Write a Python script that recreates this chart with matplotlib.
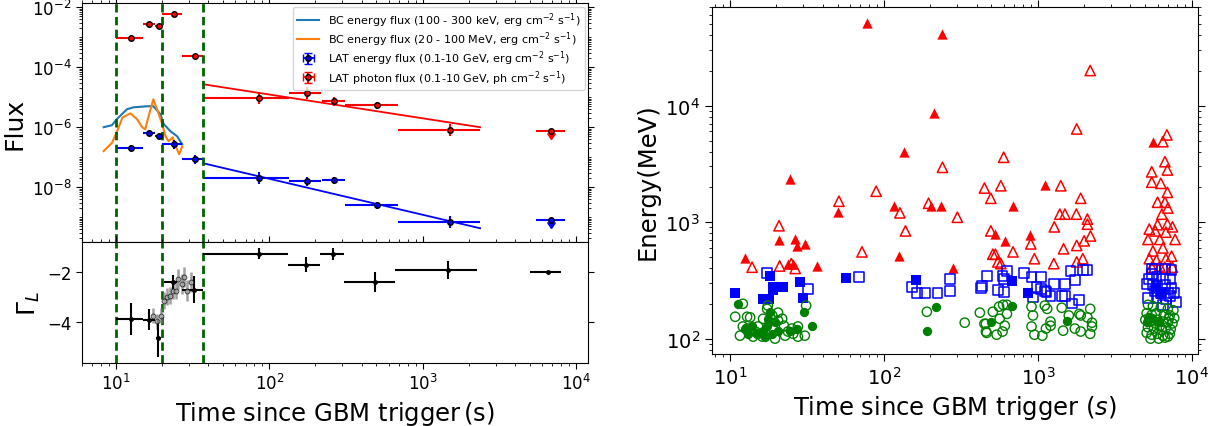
import numpy as np
import matplotlib
matplotlib.use("Agg")
import matplotlib.pyplot as plt
from matplotlib.ticker import LogLocator, NullFormatter

# ---------------- data: left panel ----------------
bc_low_t = [8.3, 9.4, 10.1, 11.8, 13.0, 16.0, 17.5, 19.5, 20.4, 22.6, 25.0, 27.0]
bc_low_f = [1.0e-6, 1.17e-6, 1.85e-6, 4.0e-6, 4.6e-6, 5.0e-6, 5.0e-6, 2.7e-6, 1.3e-6, 7.4e-7, 5.0e-7, 2.7e-7]
bc_high_t = [8.3, 9.4, 10.1, 11.0, 12.4, 13.7, 14.8, 15.5, 16.3, 17.5, 18.5, 20.0, 21.0, 22.0, 23.4, 24.5, 25.8, 27.0]
bc_high_f = [1.6e-7, 3.0e-7, 6.8e-7, 2.1e-6, 2.9e-6, 1.85e-6, 1.0e-6, 8.5e-7, 2.3e-6, 8.5e-6, 4.0e-6,
             1.26e-6, 5.0e-7, 3.4e-7, 4.6e-7, 2.3e-7, 1.26e-7, 2.3e-7]

lat_t = [12.6, 16.5, 19.0, 23.7, 32.5, 86, 175, 264, 505, 1520, 6900]
lat_tlo = [10, 15, 18, 20, 27, 37, 135, 220, 310, 690, 5500]
lat_thi = [15, 18, 20, 27, 37, 135, 217, 310, 690, 2370, 8500]
ph_flux = [9.3e-4, 2.7e-3, 2.3e-3, 5.8e-3, 2.3e-4, 9.3e-6, 1.35e-5, 7.4e-6, 5.4e-6, 8.0e-7, 7.4e-7]
ph_dex = [0.08, 0.05, 0.05, 0.05, 0.08, 0.2, 0.2, 0.15, 0.12, 0.2, 0.05]
en_flux = [2.1e-7, 6.3e-7, 5.0e-7, 2.7e-7, 8.5e-8, 2.1e-8, 1.6e-8, 1.7e-8, 2.5e-9, 6.8e-10, 8.0e-10]
en_dex = [0.08, 0.05, 0.07, 0.15, 0.15, 0.2, 0.15, 0.12, 0.12, 0.2, 0.05]
uplim = [False] * 10 + [True]

fit_t = [37, 2370]
fit_ph = [2.7e-5, 1.0e-6]
fit_en = [6.3e-8, 4.3e-10]

vlines_t = [10, 20, 37]

gam_t = [12.6, 16.3, 18.8, 23.6, 32.3, 86, 174, 262, 490, 1460, 6550]
gam_tlo = [10, 15, 18.3, 20.4, 27, 37, 133, 214, 305, 660, 5000]
gam_thi = [15, 18, 19.5, 25, 37, 133, 214, 305, 660, 2250, 8000]
gam_v = [-3.88, -3.9, -4.65, -2.41, -2.71, -1.29, -1.73, -1.29, -2.4, -1.93, -2.02]
gam_e = [0.63, 0.43, 0.73, 0.27, 0.53, 0.22, 0.3, 0.23, 0.4, 0.37, 0.05]

gg_t = [17.3, 18.5, 19.5, 20.5, 21.5, 22.6, 23.6, 24.7, 25.4, 26.8, 27.7, 29.2, 30.7]
gg_v = [-3.75, -3.97, -3.75, -3.15, -2.99, -2.95, -2.75, -2.75, -2.28, -2.48, -2.21, -2.75, -2.41]
gg_e = [0.3, 0.3, 0.3, 0.35, 0.35, 0.35, 0.35, 0.35, 0.4, 0.4, 0.4, 0.4, 0.4]

# ---------------- data: right panel ----------------
red_fill_t = [12.5, 20.8, 23.8, 25.5, 26.3, 27.2, 30.7, 37, 24.5, 50, 78, 116, 125, 135, 202, 211, 234, 240,
              280, 525, 610, 690, 890, 1110, 5600]
red_fill_E = [490, 700, 440, 440, 710, 620, 650, 420, 2350, 1230, 51000, 1370, 510, 4000, 1370, 8700, 1370, 41000,
              400, 790, 690, 1370, 780, 2100, 4900]

red_open_t = [51, 89, 127, 195, 2190, 1790, 240, 600, 450, 575, 495, 300, 1410, 1900, 1390, 1500, 1780, 2100,
              20.8, 13.9, 21, 25, 26.5, 72, 138, 495, 510, 530, 575, 690, 900, 950, 1270, 1280, 1470, 1790, 1790,
              1960, 2000, 2100, 2200, 550,
              6900, 6500, 6700, 6950, 5500, 5500, 6300, 6950, 6000, 6700, 7000, 6400, 6950, 6000, 5300, 7500,
              5800, 6800, 5200, 6200, 7800, 5600, 6500, 7400, 5300, 5900, 6800, 5500, 6200, 7500, 6700]
red_open_E = [1510, 1840, 1200, 1450, 20000, 6300, 2950, 3600, 1960, 2050, 1600, 1100, 2050, 1600, 1170, 1170, 1170, 1060,
              930, 410, 420, 440, 400, 555, 840, 840, 530, 530, 440, 555, 650, 485, 440, 910, 590, 630, 455,
              485, 690, 960, 760, 455,
              5600, 4900, 3300, 2800, 2700, 2200, 2150, 1800, 1480, 1480, 1320, 1170, 960, 950, 870, 910,
              840, 820, 710, 710, 710, 565, 600, 510, 485, 470, 485, 410, 420, 410, 410]

blue_fill_t = [10.8, 18.2, 19, 19, 22, 16.4, 17.9, 28.5, 29.8, 57, 162, 680, 860, 5900, 6300]
blue_fill_E = [247, 345, 278, 260, 275, 220, 220, 308, 224, 333, 318, 310, 247, 270, 240]

blue_open_t = [17.4, 32, 69, 152, 165, 186, 223, 268, 268, 435, 465, 430, 550, 590, 600, 605, 630, 810, 910, 1050,
               930, 980, 1050, 1140, 1270, 1110, 1210, 1430, 1510, 1510, 1630, 1740, 1660, 1850, 1960, 2100,
               5500, 5800, 6700, 7400, 5300, 5900, 6500, 7200, 5100, 5600, 6000, 6700, 7400, 5800, 6300, 7000,
               7700, 5200, 5900, 6800, 7900, 7200, 6500, 5500]
blue_open_E = [365, 268, 340, 278, 247, 247, 247, 325, 257, 283, 345, 270, 263, 345, 325, 252, 380, 365, 340, 340,
               225, 278, 268, 252, 295, 257, 233, 233, 233, 295, 380, 318, 200, 215, 390, 390,
               395, 395, 395, 390, 325, 340, 325, 325, 295, 290, 283, 290, 273, 258, 247, 247,
               247, 224, 224, 220, 207, 233, 195, 360]

green_fill_t = [11.2, 30.2, 34, 18.2, 17.6, 17.4, 13.9, 14.9, 18.8, 16.4, 20.5, 24.5, 27.2, 16.8, 13, 12.5, 19.6,
                218, 190, 500, 680, 1550, 5500, 6000, 5100, 5300]
green_fill_E = [199, 170, 129, 170, 148, 129, 129, 110, 110, 117, 117, 117, 122, 104, 110, 122, 140,
                188, 117, 139, 192, 143, 150, 140, 140, 150]

green_open_t = [12.1, 10.8, 12.9, 13.5, 12.1, 12.9, 11.6, 14.1, 15.2, 18.8, 20.5, 20.5, 22.4, 22.8, 25.2, 27.6,
                30.6, 27.6, 31.2, 19.6, 16.2, 17.4, 17.6, 21.8, 23.8, 25.7, 15.2, 19, 16.4, 14.6,
                190, 335, 420, 460, 460, 510, 540, 565, 560, 590, 610, 630, 595, 630, 450, 465,
                910, 930, 910, 950, 1070, 1110, 1150, 1210, 1130, 1210, 1430, 1460, 1590, 1740, 1860, 1900, 1900,
                2190, 2250, 2250, 2190, 2100,
                5200, 5600, 6300, 7000, 7600, 5100, 5500, 5900, 6600, 7200, 7700, 5000, 5400, 6000, 6500, 7000,
                7500, 5200, 5700, 6200, 6800, 7300, 5100, 5500, 6000, 6500, 7000, 5400, 6100, 6700, 7200, 5800,
                6400, 5300, 7100]
green_open_E = [199, 154, 154, 152, 127, 122, 106, 104, 127, 158, 167, 143, 129, 106, 122, 127,
                106, 104, 192, 100, 104, 180, 192, 148, 115, 110, 110, 122, 148, 115,
                170, 137, 167, 134, 115, 170, 108, 148, 188, 115, 129, 163, 195, 195, 134, 112,
                188, 158, 127, 108, 106, 192, 180, 140, 122, 129, 184, 117, 158, 122, 163, 158, 115,
                180, 137, 127, 110, 152,
                195, 190, 185, 180, 175, 165, 160, 165, 160, 158, 150, 145, 140, 145, 140, 138,
                135, 125, 122, 128, 124, 120, 112, 108, 110, 106, 104, 100, 100, 102, 110, 135,
                118, 150, 148]

# ---------------- figure ----------------
plt.rcParams['font.family'] = ['DejaVu Sans']
plt.rcParams['mathtext.fontset'] = 'dejavusans'
fig = plt.figure(figsize=(12.25, 4.27), dpi=100)

ax1 = fig.add_axes([0.067, 0.431, 0.413, 0.559])
ax2 = fig.add_axes([0.067, 0.148, 0.413, 0.283], sharex=ax1)
ax3 = fig.add_axes([0.581, 0.169, 0.397, 0.812])

# BC curves
ax1.plot(bc_low_t, bc_low_f, color='#1f77b4', lw=1.5,
         label=r'BC energy flux (100 - 300 keV, erg cm$^{-2}$ s$^{-1}$)')
ax1.plot(bc_high_t, bc_high_f, color='#ff7f0e', lw=1.5,
         label=r'BC energy flux (20 - 100 MeV, erg cm$^{-2}$ s$^{-1}$)')

def asym(vals, dex):
    v = np.array(vals)
    d = np.array(dex)
    return [v - v * 10 ** (-d), v * 10 ** d - v]

lt = np.array(lat_t)
xe = [lt - np.array(lat_tlo), np.array(lat_thi) - lt]
ax1.errorbar(lat_t, en_flux, xerr=xe, yerr=asym(en_flux, en_dex), uplims=uplim, fmt='o', color='blue',
             mfc='blue', mec='black', ms=4, elinewidth=1.5, capsize=0,
             label=r'LAT energy flux (0.1-10 GeV, erg cm$^{-2}$ s$^{-1}$)')
ax1.errorbar(lat_t, ph_flux, xerr=xe, yerr=asym(ph_flux, ph_dex), uplims=uplim, fmt='o', color='red',
             mfc='red', mec='black', ms=4, elinewidth=1.5, capsize=0,
             label=r'LAT photon flux (0.1-10 GeV, ph cm$^{-2}$ s$^{-1}$)')
ax1.plot(fit_t, fit_ph, color='red', lw=1.3)
ax1.plot(fit_t, fit_en, color='blue', lw=1.3)

for v in vlines_t:
    ax1.axvline(v, color='darkgreen', ls='--', lw=2, dashes=(3, 1.6))
    ax2.axvline(v, color='darkgreen', ls='--', lw=2, dashes=(3, 1.6))

ax1.set_xscale('log')
ax1.set_yscale('log')
ax1.set_xlim(6.0, 1.2e4)
ax1.set_ylim(1.5e-10, 1.35e-2)
ax1.set_yticks([1e-8, 1e-6, 1e-4, 1e-2])
ax1.yaxis.set_minor_locator(LogLocator(base=10, subs=np.arange(1, 10), numticks=30))
ax1.yaxis.set_minor_formatter(NullFormatter())
ax1.set_ylabel('Flux', fontsize=18)
ax1.tick_params(axis='both', which='both', direction='out', top=True, right=True, bottom=False,
                labelbottom=False, labelsize=12)
ax1.tick_params(which='major', length=4)
ax1.tick_params(which='minor', length=2)
leg = ax1.legend(loc='upper right', fontsize=8, framealpha=0.8, borderpad=0.35,
                 labelspacing=0.05, handlelength=2, handleheight=0.6, borderaxespad=0.3)

# Gamma panel
gt = np.array(gam_t)
ax2.errorbar(gg_t, gg_v, yerr=gg_e, fmt='o', color='grey', mfc='darkgrey', mec='black', mew=0.6,
             ms=3.5, elinewidth=1.8, alpha=0.75, capsize=0)
ax2.errorbar(gam_t, gam_v, xerr=[gt - np.array(gam_tlo), np.array(gam_thi) - gt], yerr=gam_e,
             fmt='.', color='black', ms=5, elinewidth=1.5, capsize=0)
ax2.set_ylim(-5.62, -0.82)
ax2.set_yticks([-4, -2])
ax2.set_ylabel(r'$\Gamma_L$', fontsize=18)
ax2.set_xlabel(r'Time since GBM trigger$\,$(s)', fontsize=17.5)
ax2.tick_params(axis='both', which='both', direction='out', top=True, right=True, labelsize=12)
ax2.tick_params(which='major', length=4)
ax2.tick_params(which='minor', length=2)

# Right scatter
ms_tri, ms_sq, ms_c = 55, 50, 45
ax3.scatter(red_fill_t, red_fill_E, marker='^', s=ms_tri, color='red', linewidths=0)
ax3.scatter(red_open_t, red_open_E, marker='^', s=ms_tri, facecolors='none', edgecolors='red', linewidths=1.1)
ax3.scatter(blue_fill_t, blue_fill_E, marker='s', s=ms_sq, color='blue', linewidths=0)
ax3.scatter(blue_open_t, blue_open_E, marker='s', s=ms_sq, facecolors='none', edgecolors='blue', linewidths=1.1)
ax3.scatter(green_fill_t, green_fill_E, marker='o', s=ms_c, color='green', linewidths=0)
ax3.scatter(green_open_t, green_open_E, marker='o', s=ms_c, facecolors='none', edgecolors='green', linewidths=1.0)
ax3.set_xscale('log')
ax3.set_yscale('log')
ax3.set_xlim(7.6, 1.1e4)
ax3.set_ylim(74, 7.0e4)
ax3.set_xlabel(r'Time since GBM trigger ($s$)', fontsize=17.5)
ax3.set_ylabel('Energy(MeV)', fontsize=17.5)
ax3.tick_params(axis='both', which='both', direction='out', top=True, right=True, labelsize=14)
ax3.tick_params(which='major', length=5)
ax3.tick_params(which='minor', length=2.5)

fig.savefig('out.png', dpi=100)
